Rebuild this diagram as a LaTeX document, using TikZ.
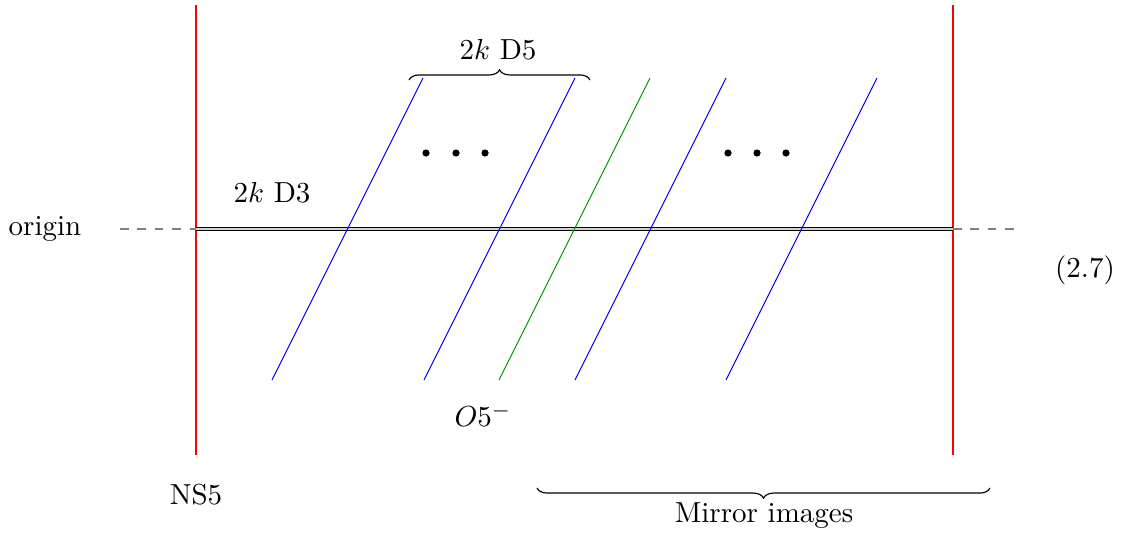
\documentclass[tikz,border=0pt]{standalone}
\usetikzlibrary{decorations.pathreplacing}
\begin{document}
\begin{tikzpicture}[x=0.345pt,y=-0.345pt,
  ns/.style={red,line width=0.4pt},
  dfive/.style={blue,line width=0.35pt},
  ofive/.style={green!60!black,line width=0.35pt},
  dthree/.style={draw=black,double=gray!35,double distance=0.6pt,line width=0.35pt},
  axis/.style={gray,dashed,line width=0.5pt},
  bracestyle/.style={decorate,decoration={brace,amplitude=3.5pt},line width=0.4pt},
  lbl/.style={inner sep=0pt}]
\useasboundingbox (0,0) rectangle (1126,536);
% NS5 branes
\coordinate (ns1t) at (196,5); \coordinate (ns1b) at (196,455);
\coordinate (ns2t) at (953,5); \coordinate (ns2b) at (953,455);
\draw[ns] (ns1t) -- (ns1b);
\draw[ns] (ns2t) -- (ns2b);
% D3
\coordinate (d3l) at (196,229); \coordinate (d3r) at (953,229);
\coordinate (axl) at (120,229); \coordinate (axr) at (1022,229);
\draw[axis] (axl) -- (d3l);
\draw[axis] (d3r) -- (axr);
\draw[dthree] (d3l) -- (d3r);
% D5 and O5
\coordinate (a1) at (272,380); \coordinate (b1) at (423,78);
\coordinate (a2) at (424,380); \coordinate (b2) at (575,78);
\coordinate (a3) at (499,380); \coordinate (b3) at (650,78);
\coordinate (a4) at (575,380); \coordinate (b4) at (726,78);
\coordinate (a5) at (726,380); \coordinate (b5) at (877,78);
\draw[dfive] (a1) -- (b1);
\draw[dfive] (a2) -- (b2);
\draw[ofive] (a3) -- (b3);
\draw[dfive] (a4) -- (b4);
\draw[dfive] (a5) -- (b5);
% dots
\foreach \x in {426,456,485,728,757,786} \fill (\x,153) circle (3.6);
% braces
\coordinate (br1l) at (409,80); \coordinate (br1r) at (590,80);
\draw[bracestyle] (br1l) -- (br1r);
\coordinate (br2l) at (537,488); \coordinate (br2r) at (990,488);
\draw[bracestyle] (br2r) -- (br2l);
% labels
\node[lbl] (origin) at (45,229) {origin};
\node[lbl] (eq) at (1085,270) {(2.7)};
\node[lbl] (d3) at (272,193) {$2k$ D3};
\node[lbl] (d5) at (498,50) {$2k$ D5};
\node[lbl] (o5) at (483,415) {$O5^{-}$};
\node[lbl] (ns) at (196,495) {NS5};
\node[lbl] (mir) at (764,516) {Mirror images};
\end{tikzpicture}
\end{document}
